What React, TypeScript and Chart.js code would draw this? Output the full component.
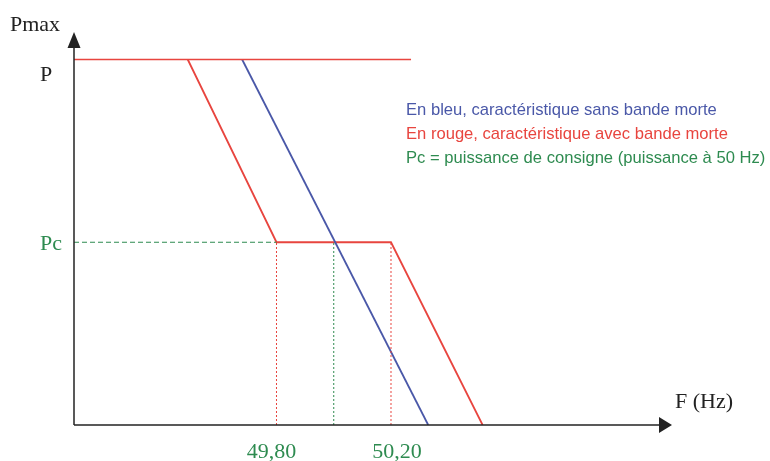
import React, { useEffect, useRef } from "react";
import { Chart, registerables } from "chart.js";

Chart.register(...registerables);

// Frequency values (Hz) and power levels (fraction of P)
const X_MIN = 49.0926;
const X_MAX = 51.1817;
const Y_MIN = 0;
const Y_MAX = 1.0752;

const P_LEVEL = 1;
const PC_LEVEL = 0.5;
const F_LOW = 49.8;
const F_NOM = 50.0;
const F_HIGH = 50.2;

const topLineX = [X_MIN, 50.27];
const topLineY = [P_LEVEL, P_LEVEL];

const redX = [49.49, F_LOW, F_HIGH, 50.52];
const redY = [P_LEVEL, PC_LEVEL, PC_LEVEL, 0];

const blueX = [49.68, 50.33];
const blueY = [P_LEVEL, 0];

const pcLineX = [X_MIN, F_LOW];
const pcLineY = [PC_LEVEL, PC_LEVEL];

const tickLabels = ["49,80", "50,20"];
const tickValues = [F_LOW, F_HIGH];

const legendLines = [
  "En bleu, caractéristique sans bande morte",
  "En rouge, caractéristique avec bande morte",
  "Pc = puissance de consigne (puissance à 50 Hz)",
];

const RED = "#e8453f";
const BLUE = "#4a58a8";
const GREEN = "#2e8b50";
const DARK = "#222222";

const pts = (xs: number[], ys: number[]) => xs.map((x, i) => ({ x, y: ys[i] }));

export default function App() {
  const ref = useRef<HTMLCanvasElement | null>(null);

  useEffect(() => {
    if (!ref.current) return;
    const overlay = {
      id: "overlay",
      beforeDraw(chart: any) {
        const ctx = chart.ctx;
        ctx.save();
        ctx.fillStyle = "#fff";
        ctx.fillRect(0, 0, chart.width, chart.height);
        ctx.restore();
      },
      afterDraw(chart: any) {
        const ctx = chart.ctx;
        const xs = chart.scales.x;
        const ys = chart.scales.y;
        const x0 = xs.getPixelForValue(X_MIN);
        const x1 = xs.getPixelForValue(X_MAX);
        const y0 = ys.getPixelForValue(0);
        const y1 = ys.getPixelForValue(Y_MAX);
        ctx.save();
        ctx.strokeStyle = DARK;
        ctx.fillStyle = DARK;
        ctx.lineWidth = 1.5;
        // y axis
        ctx.beginPath();
        ctx.moveTo(x0, y0);
        ctx.lineTo(x0, y1 + 10);
        ctx.stroke();
        ctx.beginPath();
        ctx.moveTo(x0, y1);
        ctx.lineTo(x0 - 6.5, y1 + 16);
        ctx.lineTo(x0 + 6.5, y1 + 16);
        ctx.closePath();
        ctx.fill();
        // x axis
        ctx.beginPath();
        ctx.moveTo(x0, y0);
        ctx.lineTo(x1 - 10, y0);
        ctx.stroke();
        ctx.beginPath();
        ctx.moveTo(x1, y0);
        ctx.lineTo(x1 - 13, y0 - 8);
        ctx.lineTo(x1 - 13, y0 + 8);
        ctx.closePath();
        ctx.fill();

        // serif labels
        ctx.font = '22px "Liberation Serif"';
        ctx.textBaseline = "alphabetic";
        ctx.textAlign = "left";
        ctx.fillStyle = DARK;
        ctx.fillText("Pmax", 10, 31);
        ctx.fillText("P", 40, ys.getPixelForValue(P_LEVEL) + 22);
        ctx.fillText("F (Hz)", 675, 408);
        ctx.fillStyle = GREEN;
        ctx.fillText("Pc", 40, ys.getPixelForValue(PC_LEVEL) + 8);
        ctx.textAlign = "center";
        const offs = [-5, 6];
        tickLabels.forEach((t, i) => {
          ctx.fillText(t, xs.getPixelForValue(tickValues[i]) + offs[i], 458);
        });

        // legend text
        ctx.font = '16.6px "Liberation Sans"';
        ctx.textAlign = "left";
        const cols = [BLUE, RED, GREEN];
        legendLines.forEach((t, i) => {
          ctx.fillStyle = cols[i];
          ctx.fillText(t, 406, 115 + i * 24);
        });
        ctx.restore();
      },
    };

    const chart = new Chart(ref.current, {
      type: "scatter",
      data: {
        datasets: [
          {
            data: pts(topLineX, topLineY),
            showLine: true,
            borderColor: RED,
            borderWidth: 1.6,
            pointRadius: 0,
          },
          {
            data: pts(pcLineX, pcLineY),
            showLine: true,
            borderColor: GREEN,
            borderWidth: 1.2,
            borderDash: [5, 3],
            pointRadius: 0,
          },
          {
            data: pts([F_LOW, F_LOW], [0, PC_LEVEL]),
            showLine: true,
            borderColor: RED,
            borderWidth: 1,
            borderDash: [2, 2],
            pointRadius: 0,
          },
          {
            data: pts([F_HIGH, F_HIGH], [0, PC_LEVEL]),
            showLine: true,
            borderColor: RED,
            borderWidth: 1,
            borderDash: [2, 2],
            pointRadius: 0,
          },
          {
            data: pts([F_NOM, F_NOM], [0, PC_LEVEL]),
            showLine: true,
            borderColor: GREEN,
            borderWidth: 1,
            borderDash: [2, 2],
            pointRadius: 0,
          },
          {
            data: pts(blueX, blueY),
            showLine: true,
            borderColor: BLUE,
            borderWidth: 1.8,
            pointRadius: 0,
          },
          {
            data: pts(redX, redY),
            showLine: true,
            borderColor: RED,
            borderWidth: 1.8,
            pointRadius: 0,
          },
        ],
      },
      options: {
        animation: false,
        responsive: false,
        devicePixelRatio: 1,
        layout: { padding: { left: 74, right: 98, top: 32, bottom: 36 } },
        scales: {
          x: { type: "linear", min: X_MIN, max: X_MAX, display: false },
          y: { type: "linear", min: Y_MIN, max: Y_MAX, display: false },
        },
        plugins: { legend: { display: false }, tooltip: { enabled: false } },
        events: [],
      },
      plugins: [overlay],
    } as any);
    return () => chart.destroy();
  }, []);

  return (
    <div style={{ position: "fixed", left: 0, top: 0, width: 770, height: 461, background: "#fff" }}>
      <canvas ref={ref} width={770} height={461} style={{ display: "block" }} />
    </div>
  );
}
